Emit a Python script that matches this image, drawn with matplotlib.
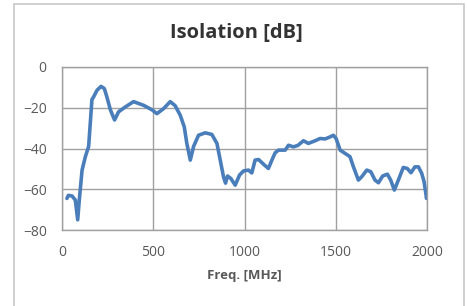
import matplotlib
matplotlib.use("Agg")
import matplotlib.pyplot as plt
from matplotlib.patches import Rectangle

freq = [27, 35, 55, 73, 86, 95, 110, 128, 146, 164, 173, 192, 214, 232, 246, 265, 288, 310, 347, 392,
        447, 493, 520, 557, 593, 620, 648, 670, 684, 703, 721, 748, 785, 821, 849, 867, 885, 896, 907,
        925, 949, 973, 995, 1022, 1040, 1058, 1077, 1104, 1131, 1150, 1168, 1186, 1223, 1241, 1268,
        1292, 1323, 1350, 1387, 1414, 1442, 1469, 1487, 1502, 1524, 1551, 1578, 1597, 1624, 1642,
        1670, 1692, 1715, 1734, 1757, 1783, 1801, 1821, 1843, 1870, 1892, 1912, 1934, 1953, 1971,
        1984, 1995, 1997]
iso = [-64.5, -63, -63.3, -65.3, -75, -65, -50.6, -44, -39, -16, -14.7, -11.4, -9.5, -10.6, -14.7,
       -21, -26, -22, -19.6, -17, -18.8, -21, -22.9, -20.4, -17, -19, -23.7, -29.4, -37.5, -45.7,
       -39, -33.5, -32.3, -33.1, -37.5, -45.7, -53.9, -57, -53.5, -54.7, -58, -53, -51, -50.6, -52,
       -45.7, -45.4, -47.7, -49.8, -45.7, -42.1, -40.8, -40.8, -38.4, -39.2, -38.5, -36.2, -37.5,
       -36.2, -35.1, -35.3, -34.3, -33.5, -35.1, -40.8, -42.4, -44, -49, -55.5, -53.9, -50.6, -51.4,
       -55.5, -56.8, -53.5, -52.6, -55.5, -60.4, -55.5, -49.3, -49.8, -51.9, -49, -49, -52.2, -56.3,
       -62.9, -64.5]
xticks = [0, 500, 1000, 1500, 2000]
yticks = [0, -20, -40, -60, -80]

plt.rcParams['font.family'] = ['Open Sans', 'DejaVu Sans']
fig = plt.figure(figsize=(4.67, 3.06), dpi=100)
fig.patches.append(Rectangle((14/467, -0.05), (464-14)/467, 1.05 - 4/306, transform=fig.transFigure,
                             fill=False, edgecolor='#c8c8c8', linewidth=1.2))
ax = fig.add_axes([62/467, 1-230/306, (427-62)/467, (230-67)/306])
ax.plot(freq, iso, color='#4a7ebb', linewidth=2.6, solid_joinstyle='round', solid_capstyle='round')
ax.set_xlim(0, 2000)
ax.set_ylim(-80, 0)
ax.set_xticks(xticks)
ax.set_yticks(yticks)
ax.grid(True, color='#a0a0a0', linewidth=1.0)
ax.set_axisbelow(True)
for s in ax.spines.values():
    s.set_color('#a0a0a0')
    s.set_linewidth(1.0)
ax.tick_params(length=0, labelsize=10, labelcolor='#595959', pad=11)
ax.set_xlabel('Freq. [MHz]', fontsize=9.5, fontweight='bold', color='#595959', labelpad=6)
fig.text(236/467, 1-33/306, 'Isolation [dB]', ha='center', va='center', fontsize=14.5,
         fontweight='bold', color='#333333')
fig.savefig('out.png', dpi=100)
